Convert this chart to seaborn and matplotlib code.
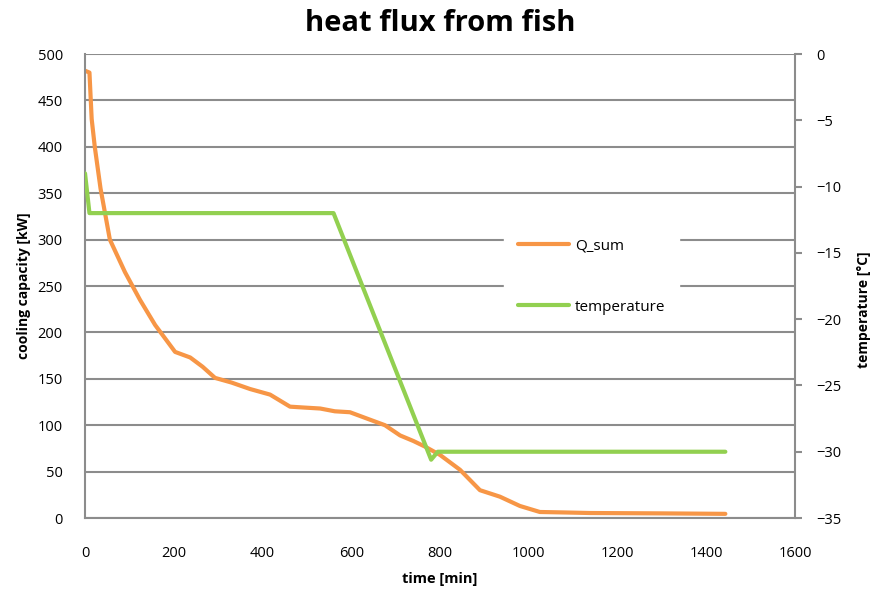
import matplotlib
matplotlib.use("Agg")
import matplotlib.pyplot as plt
import seaborn as sns
import pandas as pd

# Q_sum series (time [min], cooling capacity [kW])
q_time = [0, 10, 15, 22, 35, 56, 90, 124, 158, 203, 237, 265, 293, 330, 372, 417, 462, 495, 530, 563, 597,
          642, 676, 710, 740, 766, 800, 845, 890, 935, 980, 1025, 1080, 1138, 1300, 1443]
q_sum = [482, 480, 430, 400, 355, 300, 265, 235, 208, 179, 173, 163, 151, 146, 139, 133, 120, 119, 118, 115, 114,
         106, 100, 89, 83, 77, 68, 52, 30, 23, 13, 6.5, 6, 5.4, 5, 4.5]

# temperature series (time [min], °C)
t_time = [0, 10, 560, 780, 795, 1443]
temperature = [-9, -12, -12, -30.6, -30, -30]

df_q = pd.DataFrame({"time": q_time, "Q_sum": q_sum})
df_t = pd.DataFrame({"time": t_time, "temperature": temperature})

sns.set_theme(style="white")
plt.rcParams['font.family'] = ['Open Sans', 'DejaVu Sans']
plt.rcParams['text.color'] = 'black'
plt.rcParams['axes.labelcolor'] = 'black'

orange = "#f79646"
green = "#92d050"
grid_c = "#8c8c8c"

fig = plt.figure(figsize=(8.81, 5.89), dpi=100)
ax = fig.add_axes([0.0965, 0.1205, 0.8059, 0.7878])
ax2 = ax.twinx()

sns.lineplot(data=df_q, x="time", y="Q_sum", ax=ax, color=orange, linewidth=3, label="Q_sum", legend=False)
sns.lineplot(data=df_t, x="time", y="temperature", ax=ax2, color=green, linewidth=3, label="temperature", legend=False)

ax.set_xlim(0, 1600)
ax.set_ylim(0, 500)
ax2.set_ylim(-35, 0)
ax.set_xticks(range(0, 1601, 200))
ax.set_yticks(range(0, 501, 50))
ax2.set_yticks(range(-35, 1, 5))

ax.grid(axis="y", color=grid_c, linewidth=1.5)
ax.set_axisbelow(True)
for a in (ax, ax2):
    for s in a.spines.values():
        s.set_color(grid_c)
        s.set_linewidth(1.5)
    a.spines["top"].set_visible(False)
ax.spines["right"].set_visible(False)
ax2.spines["left"].set_visible(False)
ax2.spines["bottom"].set_visible(False)

ax.tick_params(axis="both", labelsize=10.5, colors="black", length=0)
ax.tick_params(axis="x", pad=20)
ax.tick_params(axis="y", pad=16)
ax2.tick_params(axis="y", labelsize=10.5, colors="black", direction="out", length=5, width=1.5, color=grid_c, pad=10)
for lab in ax2.get_yticklabels():
    lab.set_color("black")

ax.set_xlabel("time [min]", fontsize=10.5, fontweight="bold", labelpad=8)
ax.set_ylabel("cooling capacity [kW]", fontsize=10, fontweight="bold", labelpad=5)
ax2.set_ylabel("temperature [°C]", fontsize=10, fontweight="bold", labelpad=12)
ax2.yaxis.set_label_coords(1.087, 0.45)

fig.suptitle("heat flux from fish", fontsize=21, fontweight="bold", y=0.985, color="black")

handles = ax.get_lines()[:1] + ax2.get_lines()[:1]
leg = ax2.legend(handles, ["Q_sum", "temperature"], loc="center left", bbox_to_anchor=(0.58, 0.52),
                 frameon=True, fontsize=11, labelspacing=3.0, handlelength=3.3, handletextpad=0.4,
                 borderpad=0.9, edgecolor="white", fancybox=False, framealpha=1)

fig.savefig("out.png", dpi=100)
